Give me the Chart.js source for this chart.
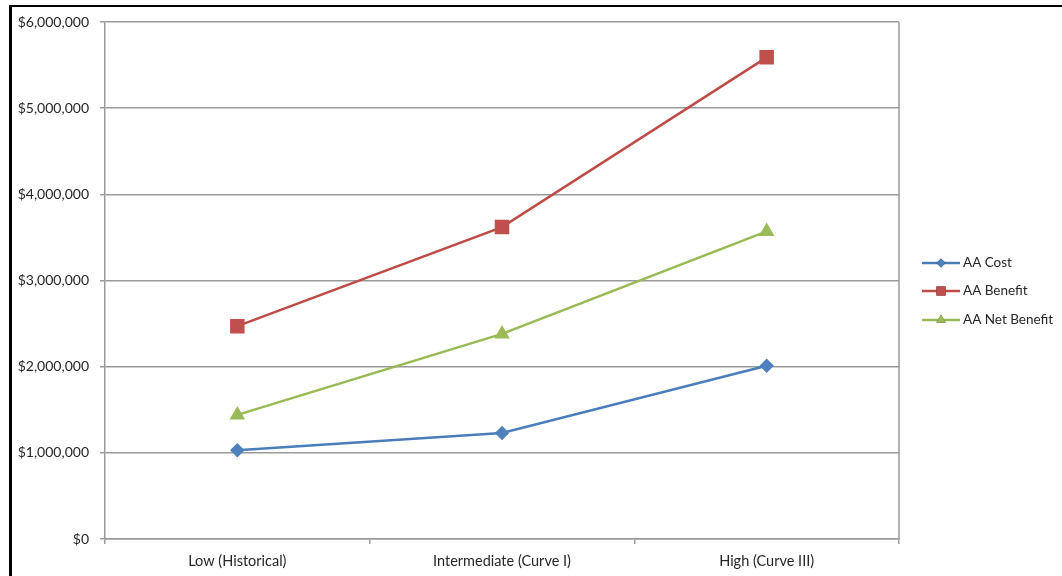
<!DOCTYPE html>
<html>
<head>
<meta charset="utf-8">
<script src="https://cdn.jsdelivr.net/npm/chart.js@4/dist/chart.umd.min.js"></script>
<style>
  html, body { margin: 0; padding: 0; background: #ffffff; }
  #wrap { position: relative; width: 1062px; height: 576px; }
  canvas { display: block; }
</style>
</head>
<body>
<div id="wrap"><canvas id="chart" width="1062" height="576"></canvas></div>
<script>
// Scenario categories along the x axis
const scenarios = ['Low (Historical)', 'Intermediate (Curve I)', 'High (Curve III)'];

// Average annual values per scenario, in dollars
const aaCost = [1030000, 1230000, 2010000];
const aaBenefit = [2470000, 3620000, 5590000];
const aaNetBenefit = [1440000, 2380000, 3570000];

// Value axis ticks
const yTicks = [0, 1000000, 2000000, 3000000, 4000000, 5000000, 6000000];

const FONT = 'Lato, "Open Sans", sans-serif';
const TEXT = '#262626';
const GRID = '#9a9a9a';

const fmtMoney = v => '$' + Number(v).toLocaleString('en-US');

// Outer frame, plot box right edge and the line-with-marker legend
const framePlugin = {
  id: 'frame',
  afterDraw(chart) {
    const ctx = chart.ctx;
    const a = chart.chartArea;
    ctx.save();
    // right edge of the plot box
    ctx.strokeStyle = GRID;
    ctx.lineWidth = 1.5;
    ctx.beginPath();
    ctx.moveTo(a.right, a.top);
    ctx.lineTo(a.right, a.bottom);
    ctx.stroke();
    // black outer frame (top and left edges)
    ctx.fillStyle = '#000000';
    ctx.fillRect(9, 5, 3, 571);
    ctx.fillRect(9, 5, 1053, 2);

    // legend
    const lx0 = 922, lx1 = 960, tx = 963;
    const ys = [263, 291, 320];
    chart.data.datasets.forEach((ds, i) => {
      const y = ys[i];
      ctx.strokeStyle = ds.borderColor;
      ctx.lineWidth = 2.5;
      ctx.beginPath();
      ctx.moveTo(lx0, y);
      ctx.lineTo(lx1, y);
      ctx.stroke();
      Chart.helpers.drawPoint(ctx, {
        pointStyle: ds.pointStyle,
        radius: ds.legendRadius,
        rotation: 0,
        borderWidth: 0
      }, (lx0 + lx1) / 2, y);
      ctx.fillStyle = ds.pointBackgroundColor;
      ctx.fill();
      ctx.fillStyle = TEXT;
      ctx.font = '13.5px ' + FONT;
      ctx.textAlign = 'left';
      ctx.textBaseline = 'middle';
      ctx.fillText(ds.label, tx, y);
    });
    ctx.restore();
  }
};

new Chart(document.getElementById('chart'), {
  type: 'line',
  data: {
    labels: scenarios,
    datasets: [
      {
        label: 'AA Cost',
        data: aaCost,
        borderColor: '#4a7ebb',
        backgroundColor: '#4f81bd',
        pointBackgroundColor: '#4f81bd',
        pointBorderColor: '#4f81bd',
        pointStyle: 'rectRot',
        pointRadius: 5.5,
        legendRadius: 4.5,
        borderWidth: 2.5
      },
      {
        label: 'AA Benefit',
        data: aaBenefit,
        borderColor: '#be4b48',
        backgroundColor: '#c0504d',
        pointBackgroundColor: '#c0504d',
        pointBorderColor: '#c0504d',
        pointStyle: 'rect',
        pointRadius: 8.5,
        legendRadius: 6.5,
        borderWidth: 2.5
      },
      {
        label: 'AA Net Benefit',
        data: aaNetBenefit,
        borderColor: '#98b954',
        backgroundColor: '#9bbb59',
        pointBackgroundColor: '#9bbb59',
        pointBorderColor: '#9bbb59',
        pointStyle: 'triangle',
        pointRadius: 6.5,
        legendRadius: 5.5,
        borderWidth: 2.5
      }
    ]
  },
  options: {
    responsive: false,
    animation: false,
    devicePixelRatio: 1,
    layout: { padding: { top: 22, right: 163, bottom: 0, left: 0 } },
    elements: { line: { tension: 0 }, point: { borderWidth: 0, hoverRadius: 6 } },
    plugins: {
      legend: { display: false },
      tooltip: { enabled: false }
    },
    scales: {
      x: {
        offset: true,
        grid: {
          offset: true,
          drawOnChartArea: false,
          drawTicks: true,
          tickLength: 5,
          color: GRID,
          lineWidth: 1.5
        },
        border: { display: true, color: GRID, width: 1.5 },
        ticks: {
          color: TEXT,
          font: { family: FONT, size: 14.5 },
          padding: 9,
          maxRotation: 0,
          autoSkip: false
        },
        afterFit(scale) { scale.height = 37; }
      },
      y: {
        min: 0,
        max: 6000000,
        afterBuildTicks(scale) { scale.ticks = yTicks.map(v => ({ value: v })); },
        grid: {
          color: GRID,
          lineWidth: 1.5,
          drawTicks: true,
          tickLength: 5
        },
        border: { display: true, color: GRID, width: 1.5 },
        ticks: {
          color: TEXT,
          font: { family: FONT, size: 14 },
          padding: 11,
          callback: v => fmtMoney(v)
        },
        afterFit(scale) { scale.width = 105; }
      }
    }
  },
  plugins: [framePlugin]
});
</script>
</body>
</html>
